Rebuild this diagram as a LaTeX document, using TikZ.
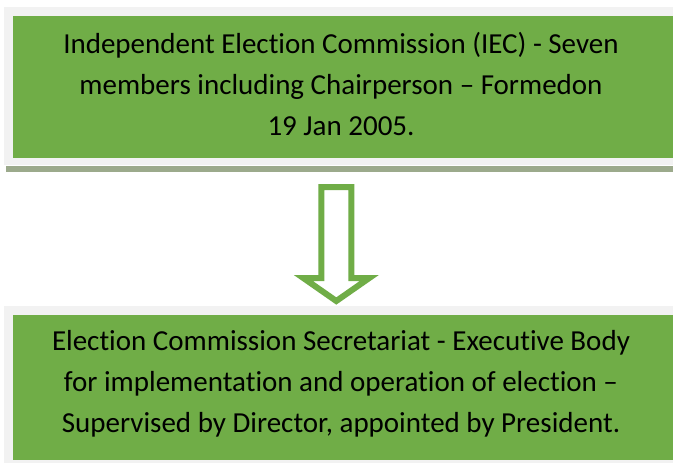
\documentclass[tikz,border=0pt]{standalone}
\usepackage{fontspec}
\setmainfont{Carlito}[Ligatures={NoCommon}]
\definecolor{boxgreen}{HTML}{70AD47}
\definecolor{framegray}{HTML}{F2F2F2}
\definecolor{bargray}{HTML}{9CAA8C}
\begin{document}
\begin{tikzpicture}[x=1pt,y=-1pt,
  frame/.style={fill=framegray,draw=none},
  greenbox/.style={fill=boxgreen,draw=none,inner sep=0pt,anchor=north west},
  label/.style={font=\fontsize{29}{41}\selectfont,align=center,text=black,inner sep=0pt,anchor=base},
  blockarrow/.style={draw=boxgreen,fill=white,line width=6pt,miter limit=10}]
\useasboundingbox (0,0) rectangle (673,463);
\fill[white] (0,0) rectangle (673,463);
% top box
\fill[frame] (4,7.3) rectangle (680,165);
\fill[bargray] (6,166) rectangle (680,171.7);
\node[greenbox, minimum width=668pt, minimum height=142pt] (top) at (12.3,15.7) {};
\node[label] (toptext) at (341,135.5) {Independent Election Commission (IEC) - Seven\\members including Chairperson – Formedon\\19 Jan 2005.};
% arrow
\coordinate (s) at (336.3,187);
\draw[blockarrow] ([xshift=-15pt]s) -- ([xshift=15pt]s) -- ([xshift=15pt,yshift=-91pt]s) -- ([xshift=33pt,yshift=-91pt]s) -- ([yshift=-114pt]s) -- ([xshift=-33pt,yshift=-91pt]s) -- ([xshift=-15pt,yshift=-91pt]s) -- cycle;
% bottom box
\fill[frame] (4,305.7) rectangle (680,470);
\node[greenbox, minimum width=668pt, minimum height=145.5pt] (bot) at (12.3,314.5) {};
\node[label] (bottext) at (341,432.5) {Election Commission Secretariat - Executive Body\\for implementation and operation of election –\\Supervised by Director, appointed by President.};
\end{tikzpicture}
\end{document}
